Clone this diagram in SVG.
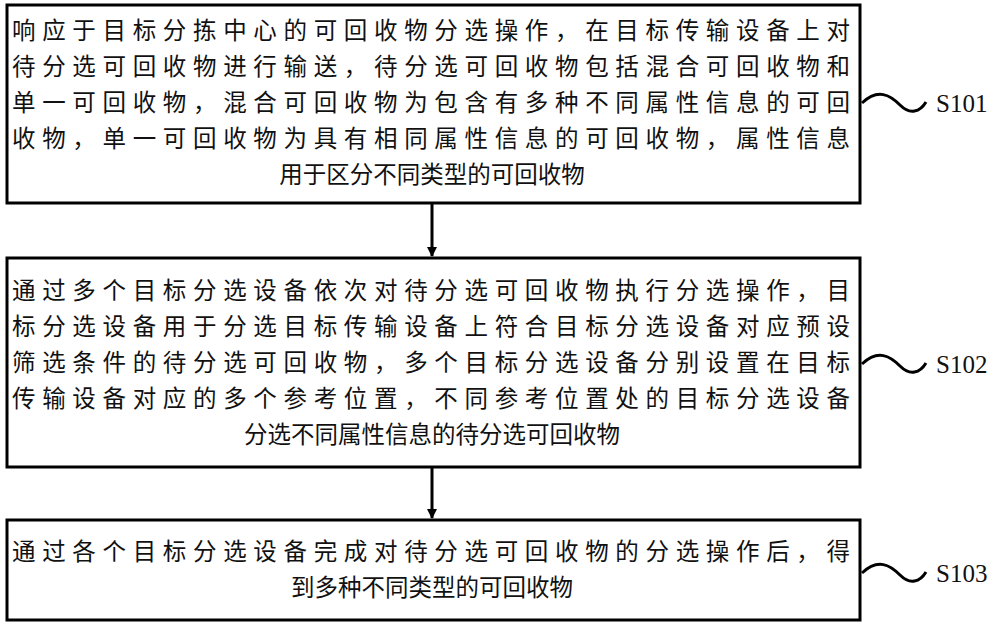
<svg xmlns="http://www.w3.org/2000/svg" width="1000" height="627" viewBox="0 0 1000 627">
<defs>
<style>
.box{fill:#fff;stroke:#000;stroke-width:3}
.t{font-family:"Noto Sans CJK SC","Noto Sans CJK JP",sans-serif;font-size:23.5px;fill:#111}
.c{text-anchor:middle}
.lbl{font-family:"Liberation Serif",serif;font-size:25px;fill:#111}
.sq{fill:none;stroke:#000;stroke-width:3}
.ln{stroke:#000;stroke-width:3}
</style>
<marker id="ah" markerWidth="10" markerHeight="10" refX="9" refY="5" orient="auto" markerUnits="userSpaceOnUse"><path d="M0,0 L10,5 L0,10 Z" fill="#000"/></marker>
</defs>
<rect width="1000" height="627" fill="#fff"/>
<g id="connectors">
<line class="ln" x1="432" y1="203" x2="432" y2="256" marker-end="url(#ah)"/>
<line class="ln" x1="432" y1="467" x2="432" y2="518" marker-end="url(#ah)"/>
</g>
<g id="S101">
<rect class="box" x="7" y="5" width="853" height="198"/>
<text class="t" x="12" y="39" textLength="838" lengthAdjust="spacing">响应于目标分拣中心的可回收物分选操作，在目标传输设备上对</text>
<text class="t" x="12" y="75" textLength="838" lengthAdjust="spacing">待分选可回收物进行输送，待分选可回收物包括混合可回收物和</text>
<text class="t" x="12" y="111" textLength="838" lengthAdjust="spacing">单一可回收物，混合可回收物为包含有多种不同属性信息的可回</text>
<text class="t" x="12" y="147" textLength="838" lengthAdjust="spacing">收物，单一可回收物为具有相同属性信息的可回收物，属性信息</text>
<text class="t c" x="432" y="183">用于区分不同类型的可回收物</text>
<path class="sq" d="M862,103 C878,88 890,95 900,105 C910,115 920,112 926,102"/>
<text class="lbl" x="936" y="112">S101</text>
</g>
<g id="S102">
<rect class="box" x="7" y="258" width="853" height="209"/>
<text class="t" x="12" y="299" textLength="838" lengthAdjust="spacing">通过多个目标分选设备依次对待分选可回收物执行分选操作，目</text>
<text class="t" x="12" y="335" textLength="838" lengthAdjust="spacing">标分选设备用于分选目标传输设备上符合目标分选设备对应预设</text>
<text class="t" x="12" y="371" textLength="838" lengthAdjust="spacing">筛选条件的待分选可回收物，多个目标分选设备分别设置在目标</text>
<text class="t" x="12" y="407" textLength="838" lengthAdjust="spacing">传输设备对应的多个参考位置，不同参考位置处的目标分选设备</text>
<text class="t c" x="432" y="443">分选不同属性信息的待分选可回收物</text>
<path class="sq" d="M862,364 C878,349 890,356 900,366 C910,376 920,373 926,363"/>
<text class="lbl" x="936" y="373">S102</text>
</g>
<g id="S103">
<rect class="box" x="7" y="520" width="853" height="100"/>
<text class="t" x="12" y="560" textLength="838" lengthAdjust="spacing">通过各个目标分选设备完成对待分选可回收物的分选操作后，得</text>
<text class="t c" x="432" y="596">到多种不同类型的可回收物</text>
<path class="sq" d="M862,573 C878,558 890,565 900,575 C910,585 920,582 926,572"/>
<text class="lbl" x="936" y="582">S103</text>
</g>
</svg>
